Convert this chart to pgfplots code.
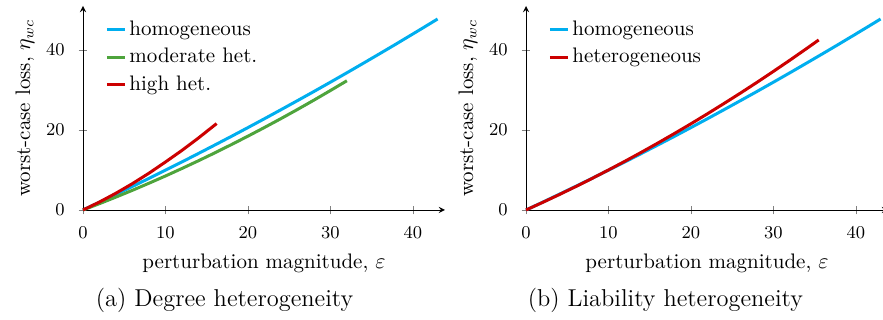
\documentclass[border=0pt]{standalone}
\usepackage{pgfplots}
\pgfplotsset{compat=1.18}
\definecolor{cblue}{RGB}{0,174,239}
\definecolor{cgreen}{RGB}{78,164,60}
\definecolor{cred}{RGB}{204,0,0}

\pgfplotstableread{
x y
0 0
2 1.93
4 3.90
6 5.89
8 7.90
10 9.95
12 12.02
14 14.13
16 16.26
18 18.41
20 20.60
22 22.81
24 25.06
26 27.33
28 29.62
30 31.95
32 34.30
34 36.69
36 39.10
38 41.53
40 44.00
42 46.49
43 47.75
}\homog

\pgfplotstableread{
x y
0 0
2 1.59
4 3.23
6 4.93
8 6.69
10 8.50
12 10.38
14 12.31
16 14.30
18 16.35
20 18.46
22 20.62
24 22.84
26 25.12
28 27.46
30 29.86
32 32.31
}\modhet

\pgfplotstableread{
x y
0 0
2 2.0
4 4.2
6 6.6
8 9.2
10 12.0
12 14.9
14 18.0
16.2 21.6
}\highhet

\pgfplotstableread{
x y
0 0
2 1.88
4 3.82
6 5.82
8 7.88
10 10.00
12 12.19
14 14.44
16 16.75
18 19.12
20 21.55
22 24.05
24 26.61
26 29.22
28 31.90
30 34.65
32 37.45
34 40.32
35.5 42.51
}\hetero

\pgfplotsset{
  myaxis/.style={
    anchor=south west,
    scale only axis,
    width=181pt, height=102pt,
    xmin=0, xmax=43.9, ymin=0, ymax=51,
    axis lines=left,
    tick align=center,
    xtick={0,10,20,30,40}, ytick={0,20,40},
    tick label style={font=\fontsize{9.1}{11}\selectfont},
    xticklabel shift=3pt,
    yticklabel shift=3.5pt,
    xlabel={perturbation magnitude, $\varepsilon$},
    ylabel={worst-case loss, $\eta_{wc}$},
    xlabel style={font=\fontsize{10.5}{12}\selectfont, at={(axis description cs:0.5,-0.215)}, anchor=north, inner sep=0pt},
    ylabel style={font=\fontsize{10.5}{12}\selectfont, at={(axis description cs:-0.133,0.5)}, anchor=south, inner sep=0pt},
    legend cell align=left,
    legend image code/.code={\draw[#1] (0pt,0pt) -- (9pt,0pt);},
    legend style={draw=none, fill=none, at={(axis description cs:0.061,0.952)}, anchor=north west,
      inner sep=0pt, row sep=0pt, font=\fontsize{10.5}{12}\selectfont,
      nodes={text height=7.6pt, text depth=2.1pt, inner xsep=1.5pt, inner ysep=2pt}},
    clip=false,
    every axis plot/.append style={line width=1.5pt},
  }
}

\begin{document}
\begin{tikzpicture}
\path[use as bounding box] (0,0) rectangle (441.5pt,160pt);
\begin{axis}[myaxis, at={(41.5pt,55pt)}]
\addplot[cblue, no marks] table[x=x,y=y] {\homog};
\addlegendentry{homogeneous}
\addplot[cgreen, no marks] table[x=x,y=y] {\modhet};
\addlegendentry{moderate het.}
\addplot[cred, no marks] table[x=x,y=y] {\highhet};
\addlegendentry{high het.}
\node[anchor=base, font=\fontsize{12.2}{14}\selectfont] at (axis description cs:0.391,-0.475) {(a) Degree heterogeneity};
\end{axis}
\begin{axis}[myaxis, at={(263pt,55pt)}]
\addplot[cblue, no marks] table[x=x,y=y] {\homog};
\addlegendentry{homogeneous}
\addplot[cred, no marks] table[x=x,y=y] {\hetero};
\addlegendentry{heterogeneous}
\node[anchor=base, font=\fontsize{12.2}{14}\selectfont] at (axis description cs:0.385,-0.475) {(b) Liability heterogeneity};
\end{axis}
\end{tikzpicture}
\end{document}
